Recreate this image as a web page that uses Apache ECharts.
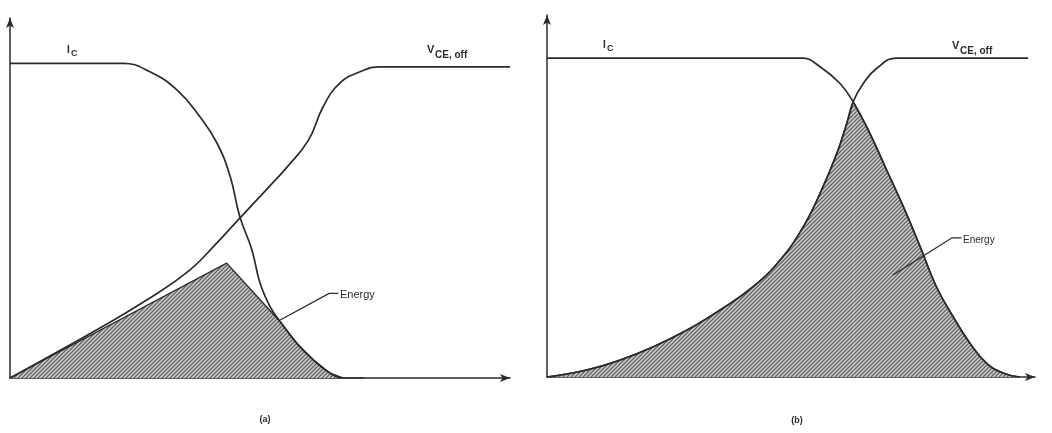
<!DOCTYPE html>
<html>
<head>
<meta charset="utf-8">
<title>Turn-off switching energy</title>
<script src="https://cdn.jsdelivr.net/npm/echarts@6/dist/echarts.min.js"></script>
<style>
  html, body { margin: 0; padding: 0; background: #ffffff; }
  #chart { width: 1052px; height: 433px; }
</style>
</head>
<body>
<div id="chart"></div>
<script>
// ---- Panel (a): slow current fall, linear voltage rise ----
// [time, amplitude] pairs, amplitude normalised so the on-state current is 100
const icA = [[0,100],[12,100],[22.4,100],[27.7,97.3],[33.1,91.5],[37.6,83.0],[41.0,74.6],[43.6,64.0],
             [45.5,51.3],[47.9,40.7],[49.5,30.2],[51.5,22.7],[53.5,17.9],[56.8,11.0],[60.1,5.7],
             [63.4,1.5],[65.9,0],[70,0]];
const vceA = [[0,0],[7.9,7.0],[17.8,15.9],[27.7,25.4],[35.6,34.3],[40.6,42.3],[45.5,50.8],[50.5,59.4],
              [54.9,67.1],[59.1,75.6],[62.0,86.2],[65.3,93.7],[69.3,97.3],[73.3,98.9],[81.2,98.9],[99,98.9]];
const energyA = [[0,0],[42.9,36.5],[53.5,17.9],[56.8,11.0],[60.1,5.7],[63.4,1.5],[65.9,0]];
const leaderA = [[65.0,26.9],[63.2,26.9],[53.5,18.4]];

// ---- Panel (b): current and voltage cross near the top ----
const icB = [[0,100],[25,100],[51.7,100],[55.4,97.3],[59.4,92.1],[62.1,86.3],[65.5,76.4],[68.9,64.9],
             [72.3,53.4],[75.7,40.9],[79.0,28.3],[82.4,18.9],[85.8,10.6],[89.2,4.3],[92.6,1.2],[95.9,0]];
const vceB = [[0,0],[8.0,2.2],[14.8,5.3],[21.6,9.5],[28.4,14.7],[35.1,21.0],[41.8,28.3],[47.3,36.7],
              [52.0,47.1],[55.4,57.6],[58.8,70.1],[60.8,79.5],[62.1,86.3],[64.2,92.1],[66.9,96.8],
              [70.9,100],[85,100],[97.6,100]];
// switching-loss area: rising edge up to the crossing, falling edge after it
const energyBRise = [[0,0],[8.0,2.2],[14.8,5.3],[21.6,9.5],[28.4,14.7],[35.1,21.0],[41.8,28.3],[47.3,36.7],
                     [52.0,47.1],[55.4,57.6],[58.8,70.1],[60.8,79.5],[62.1,86.3]];
const energyBFall = [[62.1,86.3],[65.5,76.4],[68.9,64.9],[72.3,53.4],[75.7,40.9],[79.0,28.3],[82.4,18.9],
                     [85.8,10.6],[89.2,4.3],[92.6,1.2],[95.9,0]];
const leaderB = [[84.1,43.6],[82.1,43.6],[70.2,32.0]];

const ink = '#2b2b2b';

// diagonal hatch tile for the energy areas
const tile = document.createElement('canvas');
tile.width = 4; tile.height = 4;
(function () {
  const c = tile.getContext('2d');
  c.fillStyle = '#cfcfcf';
  c.fillRect(0, 0, 4, 4);
  c.strokeStyle = '#646464';
  c.lineWidth = 1.3;
  c.beginPath();
  c.moveTo(-1, 5); c.lineTo(5, -1);
  c.moveTo(-1, 1); c.lineTo(1, -1);
  c.moveTo(3, 5); c.lineTo(5, 3);
  c.stroke();
})();
const hatch = { image: tile, repeat: 'repeat' };

function axisX(gridIndex, max) {
  return {
    type: 'value', gridIndex, min: 0, max,
    axisLine: { show: true, symbol: ['none', 'arrow'], symbolSize: [6, 10], lineStyle: { color: ink, width: 1.5 } },
    axisTick: { show: false }, axisLabel: { show: false }, splitLine: { show: false }
  };
}
function axisY(gridIndex, max) {
  return {
    type: 'value', gridIndex, min: 0, max,
    axisLine: { show: true, onZero: false, symbol: ['none', 'arrow'], symbolSize: [6, 10], lineStyle: { color: ink, width: 1.5 } },
    axisTick: { show: false }, axisLabel: { show: false }, splitLine: { show: false }
  };
}
function curve(data, idx) {
  return {
    type: 'line', data, xAxisIndex: idx, yAxisIndex: idx, showSymbol: false, symbol: 'none',
    smooth: 0.45, z: 3, silent: true,
    lineStyle: { color: ink, width: 1.7 }
  };
}
function area(data, idx, smooth) {
  return {
    type: 'line', data, xAxisIndex: idx, yAxisIndex: idx, showSymbol: false, symbol: 'none',
    smooth: smooth, z: 2, silent: true,
    lineStyle: { color: ink, width: 1.4 },
    areaStyle: { color: hatch, opacity: 1, origin: 'start' }
  };
}
function leader(data, idx) {
  return {
    type: 'line', data, xAxisIndex: idx, yAxisIndex: idx, showSymbol: false, symbol: 'none',
    smooth: false, z: 4, silent: true,
    lineStyle: { color: ink, width: 1.2 }
  };
}

const font = '"Liberation Sans", "DejaVu Sans", sans-serif';
function txt(x, y, s, size, weight) {
  return {
    type: 'text', x, y, silent: true,
    style: { text: s, fill: ink, font: (weight || 'bold') + ' ' + size + 'px ' + font, textVerticalAlign: 'middle' }
  };
}

const chart = echarts.init(document.getElementById('chart'), null, { renderer: 'canvas' });
chart.setOption({
  backgroundColor: '#ffffff',
  animation: false,
  grid: [
    { left: 10, top: 18, width: 500, height: 360 },
    { left: 547, top: 15, width: 488, height: 362 }
  ],
  xAxis: [axisX(0, 99), axisX(1, 99)],
  yAxis: [axisY(0, 114.4), axisY(1, 113.5)],
  series: [
    area(energyA, 0, false),
    curve(icA, 0),
    curve(vceA, 0),
    leader(leaderA, 0),
    area(energyBRise, 1, 0.45),
    area(energyBFall, 1, 0.45),
    curve(icB, 1),
    curve(vceB, 1),
    leader(leaderB, 1)
  ],
  graphic: [
    txt(67, 50, 'I', 10),
    txt(71, 54, 'C', 9),
    txt(427, 50, 'V', 11),
    txt(435, 55, 'CE, off', 10),
    txt(340, 295, 'Energy', 11, 'normal'),
    { type: 'text', x: 265, y: 420, silent: true,
      style: { text: '(a)', fill: ink, font: 'bold 9px ' + font, textAlign: 'center', textVerticalAlign: 'middle' } },
    txt(603, 45, 'I', 10),
    txt(607, 49, 'C', 9),
    txt(952, 46, 'V', 11),
    txt(960, 51, 'CE, off', 10),
    txt(963, 240, 'Energy', 10, 'normal'),
    { type: 'text', x: 797, y: 421, silent: true,
      style: { text: '(b)', fill: ink, font: 'bold 9px ' + font, textAlign: 'center', textVerticalAlign: 'middle' } }
  ]
});
</script>
</body>
</html>
